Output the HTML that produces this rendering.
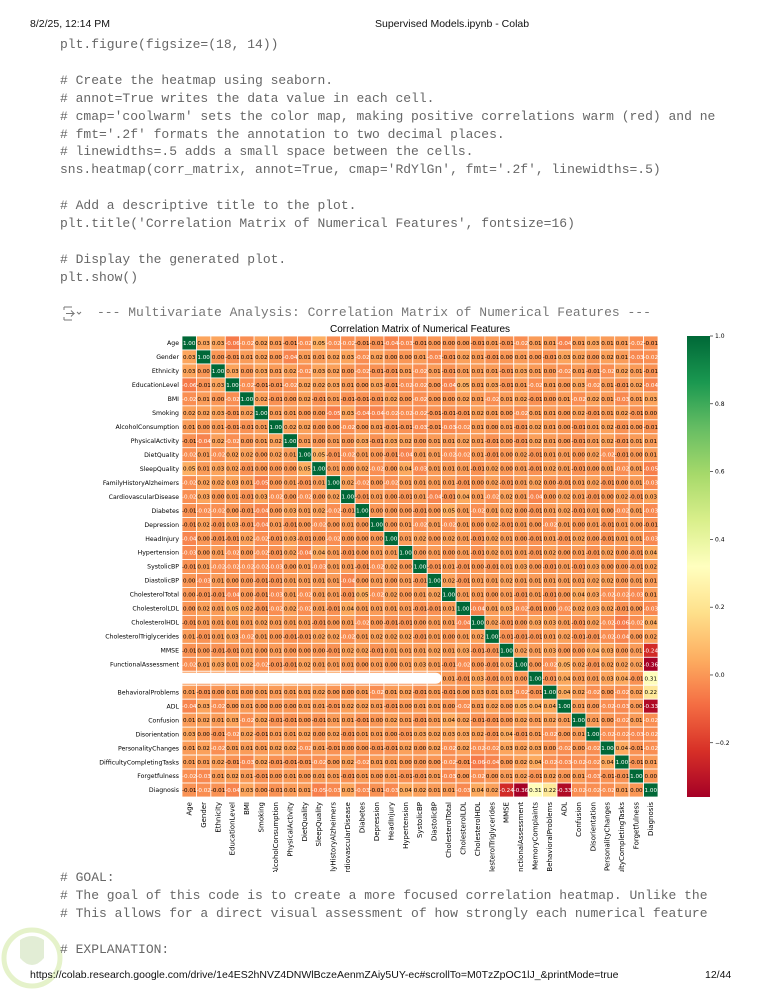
<!DOCTYPE html>
<html><head><meta charset="utf-8"><style>
html,body{margin:0;padding:0;background:#fff;}
body{width:773px;height:1000px;position:relative;overflow:hidden;font-family:"Liberation Sans",sans-serif;}
.hdr{position:absolute;top:18px;font-size:10.5px;color:#111;}
pre{margin:0;position:absolute;left:60px;font-family:"Liberation Mono",monospace;font-size:13px;line-height:17.9px;color:#666;}
.out{position:absolute;left:97px;top:305px;font-family:"Liberation Mono",monospace;font-size:13px;color:#777;white-space:pre;}
.foot{position:absolute;top:969px;font-size:10.5px;color:#111;}
svg{position:absolute;left:0;top:0;}
</style></head><body>
<div class="hdr" style="left:30px">8/2/25, 12:14 PM</div>
<div class="hdr" style="left:375px">Supervised Models.ipynb - Colab</div>
<pre style="top:36px">plt.figure(figsize=(18, 14))

# Create the heatmap using seaborn.
# annot=True writes the data value in each cell.
# cmap='coolwarm' sets the color map, making positive correlations warm (red) and ne
# fmt='.2f' formats the annotation to two decimal places.
# linewidths=.5 adds a small space between the cells.
sns.heatmap(corr_matrix, annot=True, cmap='RdYlGn', fmt='.2f', linewidths=.5)

# Add a descriptive title to the plot.
plt.title('Correlation Matrix of Numerical Features', fontsize=16)

# Display the generated plot.
plt.show()</pre>
<div class="out">--- Multivariate Analysis: Correlation Matrix of Numerical Features ---</div>
<svg width="773" height="1000" id="chart"></svg>
<pre style="top:869px">
# GOAL:
# The goal of this code is to create a more focused correlation heatmap. Unlike the
# This allows for a direct visual assessment of how strongly each numerical feature

# EXPLANATION:</pre>
<div class="foot" style="left:30px">https://colab.research.google.com/drive/1e4ES2hNVZ4DNWlBczeAenmZAiy5UY-ec#scrollTo=M0TzZpOC1lJ_&amp;printMode=true</div>
<div class="foot" style="left:705px">12/44</div>
<script>
const features=["Age","Gender","Ethnicity","EducationLevel","BMI","Smoking","AlcoholConsumption","PhysicalActivity","DietQuality","SleepQuality","FamilyHistoryAlzheimers","CardiovascularDisease","Diabetes","Depression","HeadInjury","Hypertension","SystolicBP","DiastolicBP","CholesterolTotal","CholesterolLDL","CholesterolHDL","CholesterolTriglycerides","MMSE","FunctionalAssessment","MemoryComplaints","BehavioralProblems","ADL","Confusion","Disorientation","PersonalityChanges","DifficultyCompletingTasks","Forgetfulness","Diagnosis"];
const upperRows=[
[0.03,0.03,-0.06,-0.02,0.02,0.01,-0.01,-0.02,0.05,-0.02,-0.02,-0.01,-0.01,-0.04,-0.03,-0.01,-0.00,0.00,0.00,-0.01,0.01,-0.01,-0.02,0.01,0.01,-0.04,0.01,0.03,0.01,0.01,-0.02],
[-0.00,-0.01,0.01,0.02,0.00,-0.04,0.01,0.01,0.02,0.03,-0.02,0.02,0.00,-0.00,0.01,-0.03,-0.01,0.02,0.01,-0.01,0.00,0.01,0.00,-0.01,0.03,0.02,-0.00,0.02,0.01,-0.03],
[0.03,-0.00,0.03,0.01,0.02,-0.02,0.03,0.02,0.00,-0.02,-0.01,-0.01,0.01,-0.02,0.01,-0.01,0.01,0.01,0.01,-0.01,0.03,0.01,0.00,-0.02,0.01,-0.01,-0.02,0.02,0.01],
[-0.02,-0.01,-0.01,-0.02,0.02,0.02,0.03,0.01,0.00,0.03,-0.01,-0.02,-0.02,-0.00,-0.04,0.05,0.01,0.03,-0.01,0.01,-0.02,0.01,0.00,0.03,-0.02,0.01,-0.01,0.02],
[0.02,-0.01,0.00,0.02,-0.01,0.01,-0.01,-0.01,-0.01,0.02,0.00,-0.02,-0.00,0.00,0.02,0.01,-0.02,0.01,0.02,-0.01,0.00,0.01,-0.02,0.02,0.01,-0.03,0.01],
[0.01,0.01,-0.00,-0.00,-0.05,0.03,-0.04,-0.04,-0.02,-0.02,-0.02,-0.01,-0.01,-0.01,0.02,0.01,0.00,-0.02,0.01,0.01,-0.00,0.02,-0.01,0.01,0.02,-0.01],
[0.02,0.02,-0.00,-0.00,-0.02,0.00,0.01,-0.01,-0.01,-0.03,-0.01,-0.03,-0.02,0.01,0.00,0.01,-0.01,0.02,0.01,0.00,-0.01,0.01,0.02,-0.01,0.00],
[0.01,-0.00,0.01,0.00,0.03,-0.01,0.03,0.02,-0.00,0.01,0.01,0.02,0.01,-0.01,0.00,-0.01,0.02,0.01,0.00,-0.01,0.01,0.02,-0.01,0.01],
[0.05,-0.01,-0.02,0.01,-0.00,-0.01,-0.04,0.01,0.01,-0.02,-0.02,0.01,-0.01,0.00,0.02,-0.01,0.01,0.01,0.00,0.02,-0.02,-0.01,0.00],
[0.01,0.00,0.02,-0.02,-0.00,0.04,-0.03,0.01,0.01,0.01,-0.01,0.02,0.00,0.01,-0.01,0.02,0.01,-0.01,0.00,0.01,-0.02,0.01],
[0.02,-0.02,0.00,-0.02,0.01,0.01,0.01,0.01,-0.01,0.00,0.02,-0.01,0.01,0.02,0.00,-0.01,0.01,0.02,-0.01,0.00,0.01],
[-0.01,0.01,0.00,-0.01,0.01,-0.04,-0.01,0.04,0.01,-0.02,0.02,0.01,-0.04,0.00,0.02,0.01,-0.01,0.00,0.02,-0.01],
[0.00,-0.00,-0.00,-0.01,0.00,0.05,0.01,-0.02,0.01,0.02,0.00,-0.01,0.01,0.02,-0.01,0.01,0.00,-0.02,0.01],
[0.00,0.01,-0.02,0.01,-0.02,0.01,0.00,0.02,-0.01,0.01,0.00,-0.02,0.01,0.00,0.01,-0.01,0.01,0.00],
[0.01,0.02,-0.00,0.02,0.01,-0.01,0.02,0.01,0.00,-0.01,0.01,-0.01,0.02,0.00,-0.01,0.01,0.01],
[-0.00,0.01,0.00,0.01,-0.01,0.02,0.01,0.01,-0.01,0.02,0.00,0.01,-0.01,0.02,0.00,-0.01],
[-0.01,0.01,-0.01,0.00,-0.01,0.01,0.03,-0.00,-0.01,0.01,-0.01,0.03,0.00,-0.00,-0.01],
[0.02,-0.01,0.01,0.01,0.02,0.01,0.01,0.01,0.01,0.01,0.02,0.02,-0.00,0.01],
[0.01,0.01,-0.00,0.01,-0.01,0.01,-0.01,0.00,0.04,0.03,-0.02,-0.02,-0.03],
[-0.04,0.01,0.03,-0.02,-0.01,-0.00,-0.02,0.02,0.03,0.02,-0.01,-0.00],
[0.02,-0.01,-0.00,0.03,0.03,0.01,-0.01,0.02,-0.02,-0.06,-0.02],
[-0.01,-0.01,-0.01,0.01,0.02,-0.01,-0.01,-0.02,-0.04,0.00],
[0.02,0.01,0.03,0.00,0.00,0.04,0.03,0.00,0.01],
[0.00,-0.02,0.05,0.02,-0.01,0.02,0.02,0.02],
[-0.01,0.04,0.01,0.01,0.03,0.04,-0.01],
[0.04,0.02,-0.02,-0.00,-0.02,0.02],
[0.01,0.00,-0.02,-0.03,-0.00],
[0.01,-0.00,-0.02,0.01],
[-0.02,-0.02,-0.03],
[0.04,-0.01],
[-0.01],
[]];
const diagnosisCorr=[-0.01,-0.02,-0.01,-0.04,0.03,-0.00,-0.01,0.01,0.01,-0.05,-0.03,0.03,-0.03,-0.01,-0.03,0.04,0.02,0.01,0.01,-0.03,0.04,0.02,-0.24,-0.36,0.31,0.22,-0.33,-0.02,-0.02,-0.02,0.01,-0.00];
const cbarTicks=[1.0,0.8,0.6,0.4,0.2,0.0,-0.2];

const N=features.length;
const M=[];for(let i=0;i<N;i++){M.push(new Array(N).fill(0));M[i][i]=1;}
for(let i=0;i<N-1;i++){for(let j=i+1;j<N-1;j++){const v=(upperRows[i]&&upperRows[i][j-i-1]!==undefined)?upperRows[i][j-i-1]:0;M[i][j]=v;M[j][i]=v;}
  M[i][N-1]=diagnosisCorr[i];M[N-1][i]=diagnosisCorr[i];}
let vmin=1,vmax=-1;for(const r of M)for(const v of r){vmin=Math.min(vmin,v);vmax=Math.max(vmax,v);}
const stops=["#a50026","#d73027","#f46d43","#fdae61","#fee08b","#ffffbf","#d9ef8b","#a6d96a","#66bd63","#1a9850","#006837"].map(h=>[parseInt(h.slice(1,3),16),parseInt(h.slice(3,5),16),parseInt(h.slice(5,7),16)]);
function cmap(v){let t=(v-vmin)/(vmax-vmin);t=Math.max(0,Math.min(1,t));const p=t*10,k=Math.min(9,Math.floor(p)),f=p-k;
  return stops[k].map((c,i)=>Math.round(c+(stops[k+1][i]-c)*f));}
function lum(c){const l=c.map(x=>{x/=255;return x<=0.03928?x/12.92:Math.pow((x+0.055)/1.055,2.4)});return 0.2126*l[0]+0.7152*l[1]+0.0722*l[2];}
const X0=182,Y0=336,W=476,H=461,cw=W/N,ch=H/N;
const xPos=j=>X0+j*cw, yPos=i=>Y0+i*ch;
const NS="http://www.w3.org/2000/svg",svg=document.getElementById('chart');
function mk(t,a,p){const e=document.createElementNS(NS,t);for(const k in a)e.setAttribute(k,a[k]);(p||svg).appendChild(e);return e;}
const defs=mk('defs',{});
const clip=mk('clipPath',{id:'colclip'},defs);
mk('rect',{x:0,y:Y0+H+3,width:773,height:72},clip);
const title=mk('text',{x:420,y:332,'text-anchor':'middle','font-size':10,'font-family':'Liberation Sans, sans-serif',fill:'#000'});


title.textContent='Correlation Matrix of Numerical Features';
for(let i=0;i<N;i++)for(let j=0;j<N;j++){
  const c=cmap(M[i][j]);
  const r=mk('rect',{x:xPos(j),y:yPos(i),width:cw,height:ch,fill:`rgb(${c})`,stroke:'#fff','stroke-width':0.8});
  
  
  const t=mk('text',{x:xPos(j)+cw/2,y:yPos(i)+ch/2+2,'text-anchor':'middle','font-size':5.6,'font-family':'DejaVu Sans, sans-serif',fill:lum(c)<0.408?'#fff':'#000'});
  
  
  t.textContent=M[i][j].toFixed(2);
}
const colG=mk('g',{'clip-path':'url(#colclip)'});
for(let i=0;i<N;i++){
  const t=mk('text',{x:X0-3,y:yPos(i)+ch/2+2.2,'text-anchor':'end','font-size':6.2,'font-family':'DejaVu Sans, sans-serif',fill:'#000'});
  
  
  t.textContent=features[i];
  const x=xPos(i)+cw/2+2.2,y=Y0+H+5;
  const u=mk('text',{x:x,y:y,'text-anchor':'end','font-size':7,'font-family':'DejaVu Sans, sans-serif',fill:'#000',transform:`rotate(-90 ${x} ${y})`},colG);
  
  
  u.textContent=features[i];
}
// rendering artifact over the MemoryComplaints row
const art=mk('rect',{x:95,y:yPos(24)+1.5,width:xPos(18)-95,height:ch-3,rx:6,fill:'#fff'});


// colorbar
const CX=687,CW=23,CY0=Y0,CH=H;
const g=mk('linearGradient',{id:'cb',x1:0,y1:1,x2:0,y2:0},defs);
for(let k=0;k<=20;k++){const v=vmin+(vmax-vmin)*k/20;mk('stop',{offset:k/20,'stop-color':`rgb(${cmap(v)})`},g);}
const cb=mk('rect',{x:CX,y:CY0,width:CW,height:CH,fill:'url(#cb)'});


const cy=v=>CY0+CH*(vmax-v)/(vmax-vmin);
for(const v of cbarTicks){
  mk('line',{x1:CX+CW,x2:CX+CW+3,y1:cy(v),y2:cy(v),stroke:'#000','stroke-width':0.6});
  const t=mk('text',{x:CX+CW+5,y:cy(v)+2,'font-size':6,'font-family':'DejaVu Sans, sans-serif',fill:'#000'});
  
  
  t.textContent=v<0?'\u2212'+Math.abs(v).toFixed(1):v.toFixed(1);
}
// output icon
const ic=mk('g',{stroke:'#777','stroke-width':1,fill:'none'});


mk('path',{d:'M64 307 h8 M64 320 h8 M64 307 v3 M64 320 v-3 M66 313.5 h8 l-3 -3 M74 313.5 l-3 3 M77 312 l2 2 l2 -2'},ic);
// watermark
const wm=mk('g',{opacity:0.25});


mk('circle',{cx:32,cy:958,r:28,fill:'none',stroke:'#9acd32','stroke-width':5},wm);
mk('path',{d:'M20 940 q12 -8 24 0 v18 q-12 14 -24 0 z',fill:'#8fbc5a'},wm);
</script>
</body></html>
